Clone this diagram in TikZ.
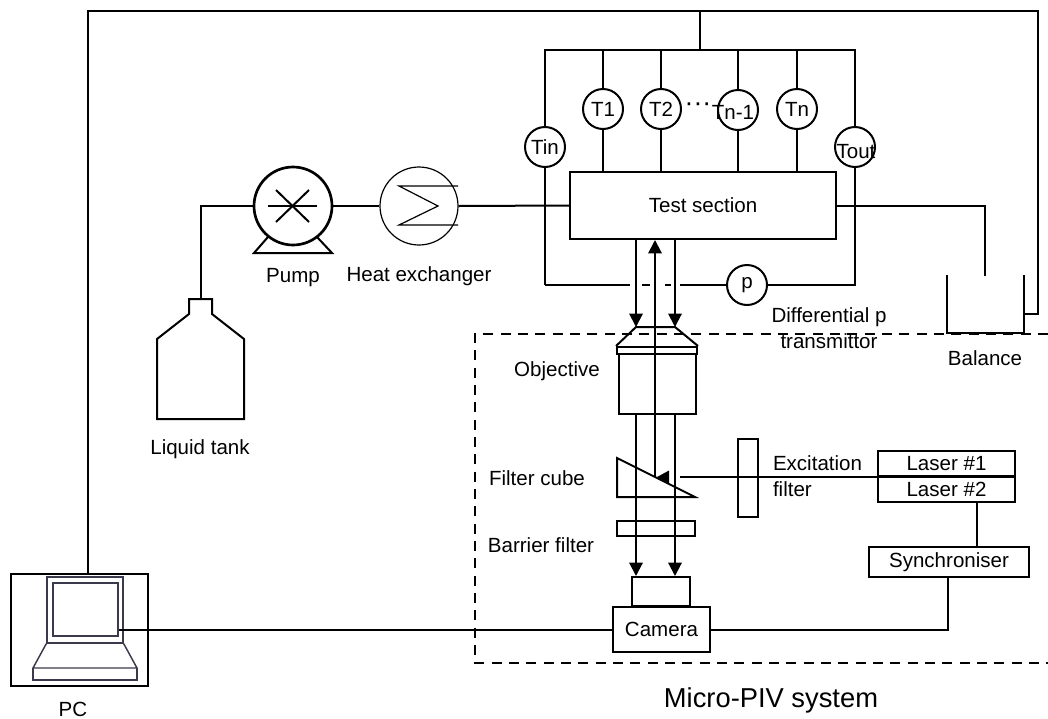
\documentclass[tikz,border=0pt]{standalone}
\usepackage{fontspec}
\setmainfont{Liberation Sans}
\usepackage{xcolor}
\definecolor{cl}{HTML}{3a3a4c}
\usetikzlibrary{arrows.meta,positioning,calc}

\begin{document}
\begin{tikzpicture}[
  x=.75pt, y=-.75pt, >={Stealth[length=10pt,width=10pt,inset=0pt]},
  line width=1.5pt, line join=miter,
  txt/.style={inner sep=0pt, font=\fontsize{15.4}{18}\selectfont, align=center},
  gauge/.style={circle, draw, minimum size=30pt, inner sep=0pt, font=\fontsize{15.4}{18}\selectfont},
  unit/.style 2 args={rectangle, draw, minimum width=#1*.75pt, minimum height=#2*.75pt, inner sep=0pt, font=\fontsize{15.4}{18}\selectfont},
  thinline/.style={line width=.9pt},
  lap/.style={draw=cl, line width=1.1pt},
]
  \useasboundingbox (0,0) rectangle (1048,718);

  % flow loop
  \node[circle, draw, line width=2pt, minimum size=58.5pt, inner sep=0pt] (pump) at (293,206) {};
  \node[circle, draw, thinline, minimum size=58.5pt, inner sep=0pt] (hx) at (419,206) {};
  \node[unit={266}{67}] (test) at (703,205.5) {Test section};
  \node[txt, below=15.5pt of pump.south] (pumplab) {Pump};
  \node[txt] (hxlab) at (419,276) {Heat exchanger};
  \node[txt] (tanklab) at (200,449) {Liquid tank};

  % tank
  \coordinate (tanktop) at (201,299);
  \draw (157,419) -- (157,339) -- (189,314) -- (189,299) -- (212,299) -- (212,314) -- (244,339) -- (244,419) -- cycle;
  \draw (tanktop) -- (tanktop |- pump) -- (pump.west);
  \draw (pump.east) -- (hx.west);
  \draw (hx.east) -- (test.west);

  % pump and exchanger details
  \coordinate (ft1) at (254,253);
  \coordinate (ft2) at (332,253);
  \draw (268,237) -- (ft1) -- (ft2) -- (317,237);
  \draw (268,206) -- (317,206);
  \draw (276,190) -- (309,222);
  \draw (309,190) -- (276,222);
  \draw[thinline] (458,186) -- (399,186) -- (438,206) -- (399,225) -- (458,225);

  % gauges
  \node[gauge] (tin) at (545,147) {Tin};
  \node[gauge] (t1) at (603,109) {T1};
  \node[gauge] (t2) at (661,109) {T2};
  \node[gauge] (tnm) at (738,110) {};
  \node[gauge] (tn) at (797,109) {Tn};
  \node[gauge] (tout) at (855,147) {};
  \node[gauge] (p) at (747,285) {p};
  \node[txt] (tnmlab) at (733,112) {Tn-1};
  \node[txt] (toutlab) at (856,152) {Tout};
  \node[txt, font=\fontsize{20}{20}\selectfont] (dots) at (698,107) {···};

  \coordinate (hdl) at (545,50);
  \coordinate (hdr) at (855,50);
  \coordinate (hdm) at (700,50);
  \coordinate (topl) at (88,11);
  \coordinate (topr) at (1038,11);
  \draw (tin.north) -- (hdl) -- (hdr) -- (tout.north);
  \foreach \n in {t1,t2,tnm,tn} {
    \draw (\n.north) -- (\n |- hdl);
    \draw (\n.south) -- (\n |- test.north);
  }
  \draw (hdm) -- (hdm |- topl);

  % pressure line
  \coordinate (pl) at (545,285);
  \draw (tin.south) -- (pl);
  \draw[dash pattern=on 63.75pt off 9pt on 6pt off 11.25pt on 4.5pt off 6.75pt on 60pt] (pl) -- (p.west);
  \draw (tout.south) -- (tout |- p) -- (p.east);
  \node[txt] (dplab) at (829,328) {Differential p\\[2pt]transmittor};

  % balance
  \coordinate (ball) at (947,275);
  \coordinate (balr) at (1024,275);
  \coordinate (inlet) at (985,276);
  \coordinate (balc) at (1024,314);
  \draw (ball) -- (947,333) -- (1024,333) -- (balr);
  \draw (test.east) -- (test.east -| inlet) -- (inlet);
  \node[txt] (ballab) at (985,358) {Balance};

  % PC
  \node[unit={137}{112}] (pc) at (79.5,630) {};
  \node[rectangle, lap, minimum width=57pt, minimum height=49.5pt, inner sep=0pt] (lid) at (85,610) {};
  \node[rectangle, lap, minimum width=48.75pt, minimum height=39.75pt, inner sep=0pt] (screen) at (85.5,609.5) {};
  \draw[lap] (lid.south west) -- (33,668) -- (137,668) -- (lid.south east);
  \draw[lap] (33,668) -- (33,680) -- (137,680) -- (137,668);
  \node[txt] (pclab) at (73,709) {PC};
  \draw (pc.north -| topl) -- (topl) -- (topr) -- (topr |- balc) -- (balc);

  % micro-PIV box
  \coordinate (boxr) at (1048,334);
  \draw[line width=1pt, dash pattern=on 7.5pt off 5.5pt] (boxr) -- (475,334) -- (475,663) -- (1048,663);
  \node[txt, font=\fontsize{20.5}{24}\selectfont] (pivlab) at (771,700) {Micro-PIV system};

  % objective
  \node[unit={77}{60}] (objbody) at (657.5,384) {};
  \node[unit={80}{7}] (objband) at (657,350.5) {};
  \coordinate (objl) at (636,327);
  \coordinate (objr) at (675,327);
  \draw (objband.north west) -- (objl) -- (objr) -- (objband.north east);
  \node[txt] (objlab) at (557,371) {Objective};

  % filter cube and filters
  \coordinate (cubea) at (617,458);
  \coordinate (cubeb) at (617,497);
  \coordinate (cubec) at (695,497);
  \draw (cubea) -- (cubeb) -- (cubec) -- cycle;
  \node[txt] (cubelab) at (537,478) {Filter cube};
  \node[unit={78}{15}] (barrier) at (656,528.5) {};
  \node[txt] (barlab) at (541,545) {Barrier filter};
  \node[unit={20}{78}] (excf) at (748,478) {};
  \node[txt, align=left, anchor=west] (exclab) at (772,476) {Excitation\\[2pt]filter};

  % camera
  \node[unit={97}{45}] (camera) at (661.5,629.5) {Camera};
  \node[unit={58}{29}] (lens) at (661,591.5) {};

  % lasers
  \node[unit={137}{25.5}] (laser1) at (946.5,464) {Laser \#1};
  \node[unit={137}{25.5}] (laser2) at (946.5,489) {Laser \#2};
  \node[unit={160}{30}] (sync) at (949,562) {Synchroniser};
  \coordinate (lasin) at (680,477);
  \coordinate (lasx) at (878,477);
  \draw (lasx) -- (lasin);
  \fill (657,477) -- (669,470.5) -- (669,483.5) -- cycle;

  % beams
  \coordinate (bl) at (636,239);
  \coordinate (br) at (675,239);
  \coordinate (bc) at (655,477);
  \draw[->] (bl) -- (objl);
  \draw[->] (br) -- (objr);
  \draw[->] (bc) -- (bc |- test.south);
  \draw[->] (bl |- objbody.south) -- (bl |- lens.north);
  \draw[->] (br |- objbody.south) -- (br |- lens.north);

  % signal lines
  \draw (laser2.south -| 977,0) -- (sync.north -| 977,0);
  \draw (camera.west) -- (screen.east |- camera.west);
  \draw (camera.east) -- (camera.east -| 948,0) -- (sync.south -| 948,0);
\end{tikzpicture}
\end{document}
